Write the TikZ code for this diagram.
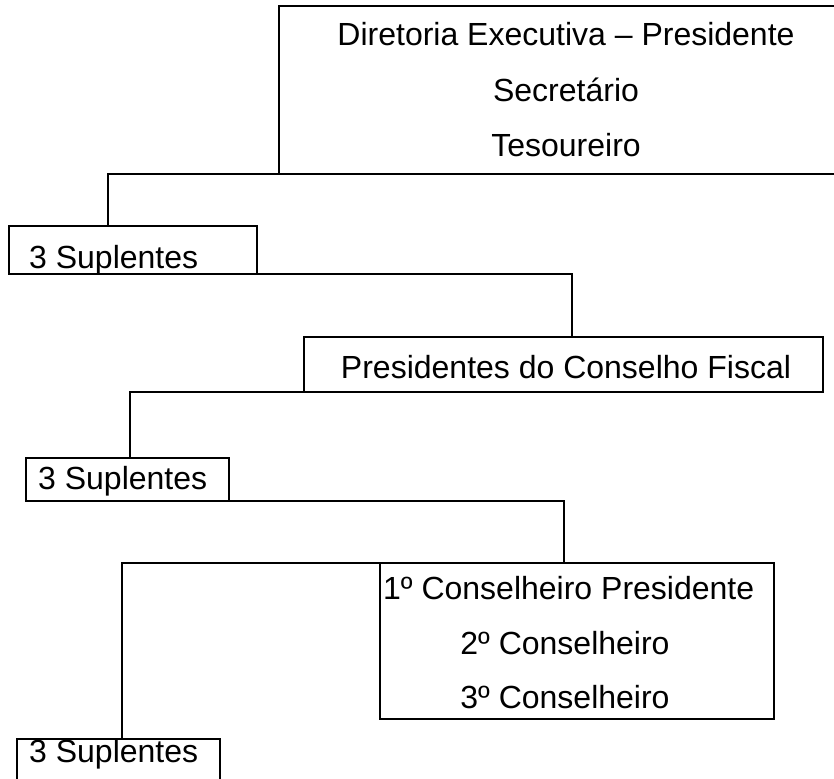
\documentclass[tikz,border=0pt]{standalone}
\usepackage{fontspec}
\setmainfont{Liberation Sans}
\begin{document}
\begin{tikzpicture}[x=1pt,y=-1pt,
  box/.style={draw=black, line width=1.6pt, rectangle, inner sep=0pt, outer sep=0pt, anchor=north west},
  conn/.style={draw=black, line width=1.6pt},
  lbl/.style={inner sep=0pt, font=\fontsize{32}{38}\selectfont}]
\useasboundingbox (0,0) rectangle (834,778);
\clip (0,0) rectangle (834,778);
\fill[white] (0,0) rectangle (834,778);
% boxes
\node[box, minimum width=600pt, minimum height=168pt] (b1) at (279,6) {};
\node[box, minimum width=248pt, minimum height=48pt] (b2) at (9,226) {};
\node[box, minimum width=519pt, minimum height=55pt] (b3) at (304,337) {};
\node[box, minimum width=203pt, minimum height=43pt] (b4) at (26,458) {};
\node[box, minimum width=394pt, minimum height=156pt] (b5) at (380,563) {};
\node[box, minimum width=203pt, minimum height=80pt] (b6) at (17,739) {};
% texts
\node[lbl, anchor=base] (t1a) at (566,46) {Diretoria Executiva – Presidente};
\node[lbl, anchor=base] (t1b) at (566,102) {Secretário};
\node[lbl, anchor=base] (t1c) at (566,157) {Tesoureiro};
\node[lbl, anchor=base west] (t2) at (29,268) {3 Suplentes};
\node[lbl, anchor=base] (t3) at (566,378) {Presidentes do Conselho Fiscal};
\node[lbl, anchor=base west] (t4) at (38,489) {3 Suplentes};
\node[lbl, anchor=base west] (t5a) at (383,599) {1º Conselheiro Presidente};
\node[lbl, anchor=base] (t5b) at (565,654) {2º Conselheiro};
\node[lbl, anchor=base] (t5c) at (565,708) {3º Conselheiro};
\node[lbl, anchor=base west] (t6) at (29,762) {3 Suplentes};
% connectors
\coordinate (c1) at (108,174);
\coordinate (c2) at (572,274);
\coordinate (c3) at (130,392);
\coordinate (c4) at (564,501);
\coordinate (c5) at (122,563);
\draw[conn] (b1.south west) -- (c1) -- (c1 |- b2.north);
\draw[conn] (b2.south east) -- (c2) -- (c2 |- b3.north);
\draw[conn] (b3.south west) -- (c3) -- (c3 |- b4.north);
\draw[conn] (b4.south east) -- (c4) -- (c4 |- b5.north);
\draw[conn] (b5.north west) -- (c5) -- (c5 |- b6.north);
\end{tikzpicture}
\end{document}
